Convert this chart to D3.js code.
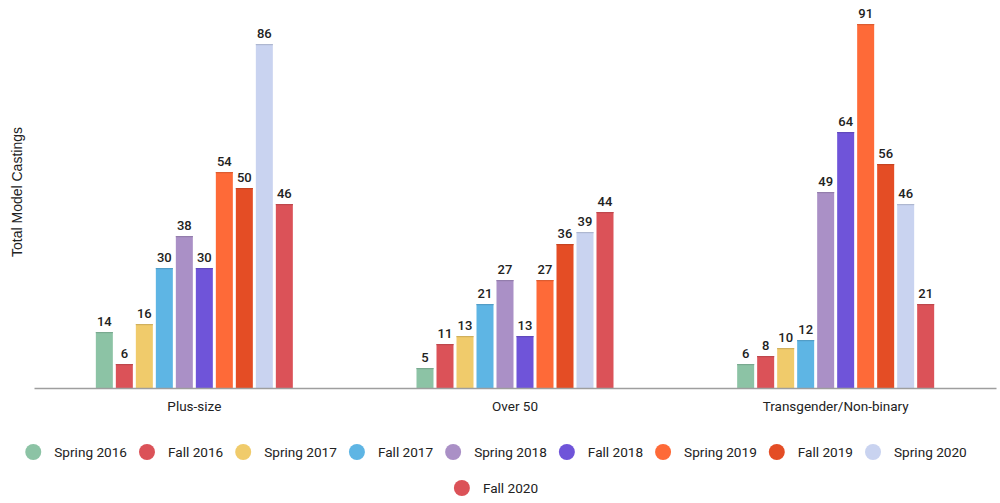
<!DOCTYPE html>
<html><head><meta charset="utf-8">
<script src="https://cdn.jsdelivr.net/npm/d3@7"></script>
<style>body{margin:0;background:#fff;font-family:Roboto,sans-serif}</style>
</head><body><svg id="c" width="1000" height="503"></svg>
<script>
const categories = ["Plus-size", "Over 50", "Transgender/Non-binary"];
const seasons = ["Spring 2016","Fall 2016","Spring 2017","Fall 2017","Spring 2018","Fall 2018","Spring 2019","Fall 2019","Spring 2020","Fall 2020"];
const plusSize = [14, 6, 16, 30, 38, 30, 54, 50, 86, 46];
const over50 = [5, 11, 13, 21, 27, 13, 27, 36, 39, 44];
const transgender = [6, 8, 10, 12, 49, 64, 91, 56, 46, 21];
const colors = ["#8cc3a5","#db5258","#f0cb6b","#5eb5e4","#aa90c6","#6f54d9","#fe6a38","#e44d25","#c9d3f0","#db5258"];
const valuesByCat = [plusSize, over50, transgender];

const svg = d3.select("#c");
const y = d3.scaleLinear().domain([0, 91]).range([388, 24]);
const x0 = d3.scaleBand().domain(categories).range([34, 996]).paddingInner(0).paddingOuter(0);
const x1 = d3.scaleBand().domain(seasons).range([0, 200]).paddingInner(0.15).paddingOuter(0.075);

categories.forEach((cat, ci) => {
  const g = svg.append("g").attr("transform", `translate(${x0(cat) + x0.bandwidth()/2 - 100},0)`);
  seasons.forEach((s, si) => {
    const v = valuesByCat[ci][si];
    const c = d3.color(colors[si]);
    g.append("rect").attr("x", x1(s)).attr("y", y(v)).attr("width", x1.bandwidth()).attr("height", y(0) - y(v))
      .attr("fill", colors[si]);
    g.append("rect").attr("x", x1(s)).attr("y", y(v)).attr("width", x1.bandwidth()).attr("height", 1.2)
      .attr("fill", c.darker(0.4));
    g.append("text").attr("x", x1(s) + x1.bandwidth()/2).attr("y", y(v) - 6).attr("text-anchor","middle")
      .attr("font-size", 13).attr("font-weight", 500).attr("fill", "#222").text(v);
  });
});

const xAxis = svg.append("g").attr("transform", "translate(0,388)").call(d3.axisBottom(x0).tickSize(0).tickPadding(13));
xAxis.select(".domain").attr("stroke", "#9e9e9e").attr("stroke-width", 1.5);
xAxis.selectAll("text").attr("font-size", 13.5).attr("font-family", "Roboto").attr("fill", "#222");

svg.append("text").attr("transform", "translate(22,192) rotate(-90)").attr("text-anchor","middle")
  .attr("font-family", "'Liberation Sans', Arial, sans-serif")
  .attr("font-size", 14).attr("fill", "#222").text("Total Model Castings");

// legend
const rows = [seasons.slice(0, 9), seasons.slice(9)];
const rowY = [452, 488];
rows.forEach((row, ri) => {
  const lg = svg.append("g");
  let cx = 0;
  row.forEach(s => {
    const si = seasons.indexOf(s);
    const item = lg.append("g").attr("transform", `translate(${cx},0)`);
    item.append("circle").attr("cx", 8).attr("cy", 0).attr("r", 8).attr("fill", colors[si]);
    const t = item.append("text").attr("x", 29).attr("y", 4.8).attr("font-size", 13.6).attr("fill", "#222").text(s);
    cx += 29 + t.node().getComputedTextLength() + 12;
  });
  const total = cx - 12;
  lg.attr("transform", `translate(${496 - total/2},${rowY[ri]})`);
});
</script></body></html>
